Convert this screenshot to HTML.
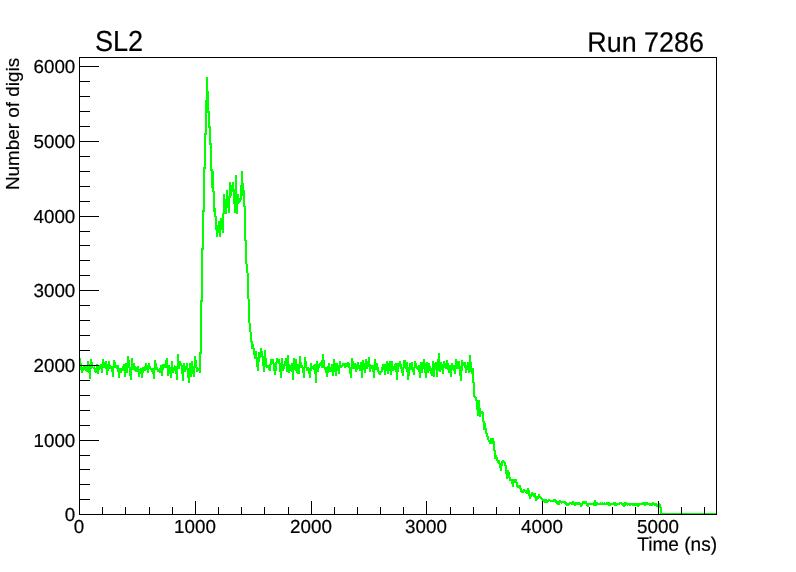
<!DOCTYPE html>
<html lang="en">
<head>
<meta charset="utf-8">
<title>SL2 - Run 7286</title>
<style>
html,body{margin:0;padding:0;background:#fff;}
body{width:796px;height:572px;overflow:hidden;}
svg{display:block;}
text{font-family:"Liberation Sans",Arial,Helvetica,sans-serif;fill:#000;stroke:#000;stroke-width:0.2px;}
</style>
</head>
<body>
<svg width="796" height="572" viewBox="0 0 796 572">
<rect width="796" height="572" fill="#fff"/>
<g shape-rendering="crispEdges"><rect x="79" y="57" width="638" height="1" fill="#000"/><rect x="716" y="57" width="1" height="458" fill="#000"/></g>
<path shape-rendering="crispEdges" fill="#00ff00" d="M80 358v12h1v-12zM81 363v10h1v-10zM82 367v6h1v-6zM83 366v5h1v-5zM84 366v4h1v-4zM85 366v5h1v-5zM86 366v6h1v-6zM87 361v11h1v-11zM88 361v12h1v-12zM89 364v15h1v-15zM90 359v20h1v-20zM91 359v10h1v-10zM92 362v6h1v-6zM93 367v2h1v-2zM94 366v6h1v-6zM95 368v5h1v-5zM96 364v9h1v-9zM97 364v10h1v-10zM98 365v9h1v-9zM99 365v5h1v-5zM100 364v5h1v-5zM101 364v9h1v-9zM102 359v14h1v-14zM103 359v9h1v-9zM104 362v6h1v-6zM105 361v8h1v-8zM106 361v14h1v-14zM107 364v11h1v-11zM108 361v10h1v-10zM109 361v8h1v-8zM110 365v4h1v-4zM111 366v6h1v-6zM112 366v11h1v-11zM113 360v17h1v-17zM114 360v8h1v-8zM115 362v6h1v-6zM116 365v4h1v-4zM117 365v7h1v-7zM118 365v13h1v-13zM119 368v10h1v-10zM120 368v5h1v-5zM121 368v5h1v-5zM122 366v5h1v-5zM123 364v7h1v-7zM124 364v13h1v-13zM125 363v14h1v-14zM126 363v10h1v-10zM127 356v17h1v-17zM128 356v12h1v-12zM129 360v16h1v-16zM130 367v13h1v-13zM131 358v22h1v-22zM132 358v12h1v-12zM133 363v7h1v-7zM134 363v8h1v-8zM135 366v6h1v-6zM136 367v5h1v-5zM137 366v6h1v-6zM138 366v11h1v-11zM139 369v8h1v-8zM140 368v6h1v-6zM141 368v10h1v-10zM142 367v11h1v-11zM143 367v6h1v-6zM144 366v5h1v-5zM145 363v8h1v-8zM146 363v7h1v-7zM147 365v8h1v-8zM148 363v10h1v-10zM149 363v6h1v-6zM150 366v4h1v-4zM151 368v4h1v-4zM152 368v6h1v-6zM153 368v11h1v-11zM154 360v19h1v-19zM155 360v10h1v-10zM156 363v7h1v-7zM157 367v5h1v-5zM158 369v3h1v-3zM159 368v5h1v-5zM160 365v8h1v-8zM161 365v11h1v-11zM162 364v12h1v-12zM163 364v6h1v-6zM164 364v4h1v-4zM165 360v8h1v-8zM166 358v10h1v-10zM167 358v18h1v-18zM168 365v11h1v-11zM169 365v9h1v-9zM170 367v11h1v-11zM171 361v17h1v-17zM172 361v12h1v-12zM173 367v6h1v-6zM174 365v6h1v-6zM175 366v8h1v-8zM176 366v14h1v-14zM177 354v26h1v-26zM178 354v15h1v-15zM179 361v8h1v-8zM180 361v5h1v-5zM181 363v11h1v-11zM182 365v16h1v-16zM183 363v18h1v-18zM184 363v9h1v-9zM185 366v6h1v-6zM186 363v7h1v-7zM187 363v15h1v-15zM188 368v15h1v-15zM189 363v20h1v-20zM190 363v14h1v-14zM191 361v16h1v-16zM192 361v13h1v-13zM193 366v11h1v-11zM194 356v21h1v-21zM195 356v12h1v-12zM196 360v12h1v-12zM197 367v5h1v-5zM198 368v3h1v-3zM199 352v21h1v-21zM200 300v73h1v-73zM201 248v106h1v-106zM202 210v92h1v-92zM203 167v83h1v-83zM204 133v79h1v-79zM205 100v69h1v-69zM206 77v58h1v-58zM207 77v36h1v-36zM208 91v37h1v-37zM209 111v34h1v-34zM210 126v45h1v-45zM211 143v45h1v-45zM212 169v23h1v-23zM213 171v41h1v-41zM214 191v26h1v-26zM215 208v22h1v-22zM216 216v21h1v-21zM217 225v12h1v-12zM218 221v12h1v-12zM219 221v16h1v-16zM220 218v19h1v-19zM221 218v12h1v-12zM222 213v20h1v-20zM223 194v39h1v-39zM224 194v20h1v-20zM225 199v15h1v-15zM226 190v24h1v-24zM227 190v18h1v-18zM228 196v17h1v-17zM229 182v31h1v-31zM230 182v16h1v-16zM231 185v11h1v-11zM232 182v10h1v-10zM233 182v22h1v-22zM234 189v24h1v-24zM235 175v38h1v-38zM236 175v39h1v-39zM237 194v20h1v-20zM238 194v10h1v-10zM239 198v5h1v-5zM240 185v17h1v-17zM241 171v29h1v-29zM242 171v25h1v-25zM243 183v24h1v-24zM244 190v51h1v-51zM245 206v58h1v-58zM246 240v33h1v-33zM247 264v35h1v-35zM248 273v50h1v-50zM249 299v33h1v-33zM250 323v19h1v-19zM251 332v17h1v-17zM252 341v8h1v-8zM253 344v11h1v-11zM254 348v11h1v-11zM255 351v8h1v-8zM256 351v16h1v-16zM257 357v14h1v-14zM258 352v19h1v-19zM259 352v10h1v-10zM260 348v10h1v-10zM261 348v9h1v-9zM262 351v15h1v-15zM263 356v16h1v-16zM264 350v22h1v-22zM265 350v17h1v-17zM266 358v10h1v-10zM267 365v3h1v-3zM268 365v5h1v-5zM269 364v7h1v-7zM270 359v12h1v-12zM271 359v6h1v-6zM272 359v5h1v-5zM273 359v12h1v-12zM274 363v12h1v-12zM275 362v13h1v-13zM276 358v13h1v-13zM277 358v5h1v-5zM278 359v5h1v-5zM279 359v13h1v-13zM280 363v15h1v-15zM281 358v20h1v-20zM282 358v13h1v-13zM283 364v7h1v-7zM284 361v8h1v-8zM285 358v8h1v-8zM286 358v14h1v-14zM287 355v17h1v-17zM288 355v18h1v-18zM289 364v9h1v-9zM290 365v6h1v-6zM291 363v9h1v-9zM292 363v17h1v-17zM293 358v22h1v-22zM294 358v12h1v-12zM295 359v12h1v-12zM296 359v14h1v-14zM297 364v10h1v-10zM298 364v10h1v-10zM299 356v18h1v-18zM300 356v12h1v-12zM301 362v6h1v-6zM302 365v8h1v-8zM303 367v11h1v-11zM304 357v21h1v-21zM305 357v11h1v-11zM306 361v10h1v-10zM307 367v4h1v-4zM308 367v7h1v-7zM309 368v10h1v-10zM310 363v15h1v-15zM311 363v8h1v-8zM312 366v3h1v-3zM313 365v5h1v-5zM314 364v10h1v-10zM315 364v19h1v-19zM316 361v22h1v-22zM317 361v11h1v-11zM318 364v8h1v-8zM319 363v5h1v-5zM320 362v4h1v-4zM321 360v8h1v-8zM322 354v14h1v-14zM323 354v14h1v-14zM324 360v10h1v-10zM325 367v6h1v-6zM326 367v10h1v-10zM327 366v11h1v-11zM328 363v10h1v-10zM329 363v9h1v-9zM330 367v5h1v-5zM331 364v8h1v-8zM332 364v12h1v-12zM333 359v17h1v-17zM334 359v13h1v-13zM335 363v13h1v-13zM336 363v13h1v-13zM337 363v8h1v-8zM338 365v9h1v-9zM339 361v13h1v-13zM340 361v7h1v-7zM341 365v3h1v-3zM342 363v4h1v-4zM343 363v3h1v-3zM344 363v5h1v-5zM345 363v5h1v-5zM346 363v4h1v-4zM347 362v5h1v-5zM348 362v6h1v-6zM349 363v11h1v-11zM350 367v11h1v-11zM351 358v20h1v-20zM352 358v11h1v-11zM353 361v8h1v-8zM354 363v6h1v-6zM355 363v9h1v-9zM356 364v8h1v-8zM357 362v8h1v-8zM358 362v7h1v-7zM359 365v6h1v-6zM360 362v9h1v-9zM361 362v16h1v-16zM362 360v18h1v-18zM363 360v10h1v-10zM364 363v10h1v-10zM365 359v14h1v-14zM366 359v10h1v-10zM367 361v8h1v-8zM368 357v10h1v-10zM369 357v15h1v-15zM370 364v8h1v-8zM371 365v4h1v-4zM372 365v7h1v-7zM373 365v13h1v-13zM374 359v19h1v-19zM375 359v11h1v-11zM376 363v7h1v-7zM377 363v9h1v-9zM378 367v7h1v-7zM379 371v4h1v-4zM380 371v4h1v-4zM381 367v6h1v-6zM382 364v8h1v-8zM383 364v6h1v-6zM384 364v11h1v-11zM385 364v11h1v-11zM386 361v10h1v-10zM387 361v13h1v-13zM388 363v11h1v-11zM389 361v10h1v-10zM390 361v14h1v-14zM391 361v14h1v-14zM392 361v10h1v-10zM393 366v5h1v-5zM394 364v6h1v-6zM395 363v9h1v-9zM396 363v17h1v-17zM397 363v17h1v-17zM398 363v9h1v-9zM399 361v6h1v-6zM400 361v8h1v-8zM401 364v9h1v-9zM402 367v9h1v-9zM403 360v16h1v-16zM404 360v8h1v-8zM405 360v9h1v-9zM406 362v10h1v-10zM407 362v18h1v-18zM408 367v13h1v-13zM409 363v13h1v-13zM410 363v7h1v-7zM411 362v8h1v-8zM412 362v10h1v-10zM413 367v8h1v-8zM414 361v14h1v-14zM415 361v7h1v-7zM416 363v6h1v-6zM417 366v4h1v-4zM418 365v7h1v-7zM419 365v13h1v-13zM420 362v16h1v-16zM421 362v11h1v-11zM422 362v11h1v-11zM423 359v10h1v-10zM424 359v14h1v-14zM425 363v15h1v-15zM426 362v16h1v-16zM427 362v11h1v-11zM428 363v10h1v-10zM429 363v8h1v-8zM430 366v8h1v-8zM431 368v8h1v-8zM432 361v15h1v-15zM433 361v16h1v-16zM434 363v14h1v-14zM435 362v8h1v-8zM436 362v15h1v-15zM437 359v18h1v-18zM438 353v18h1v-18zM439 353v19h1v-19zM440 362v10h1v-10zM441 362v8h1v-8zM442 364v10h1v-10zM443 361v13h1v-13zM444 361v7h1v-7zM445 363v6h1v-6zM446 360v9h1v-9zM447 360v10h1v-10zM448 363v10h1v-10zM449 365v8h1v-8zM450 365v12h1v-12zM451 363v14h1v-14zM452 363v7h1v-7zM453 365v6h1v-6zM454 365v9h1v-9zM455 359v15h1v-15zM456 359v10h1v-10zM457 361v8h1v-8zM458 361v8h1v-8zM459 361v15h1v-15zM460 366v15h1v-15zM461 360v21h1v-21zM462 360v11h1v-11zM463 362v4h1v-4zM464 362v6h1v-6zM465 362v11h1v-11zM466 365v8h1v-8zM467 362v8h1v-8zM468 362v11h1v-11zM469 355v18h1v-18zM470 355v17h1v-17zM471 362v12h1v-12zM472 368v15h1v-15zM473 368v29h1v-29zM474 382v16h1v-16zM475 396v5h1v-5zM476 397v13h1v-13zM477 400v16h1v-16zM478 400v16h1v-16zM479 400v17h1v-17zM480 408v9h1v-9zM481 411v3h1v-3zM482 411v11h1v-11zM483 412v18h1v-18zM484 421v9h1v-9zM485 423v11h1v-11zM486 428v9h1v-9zM487 433v7h1v-7zM488 436v6h1v-6zM489 440v4h1v-4zM490 438v6h1v-6zM491 438v6h1v-6zM492 438v6h1v-6zM493 438v13h1v-13zM494 441v18h1v-18zM495 450v9h1v-9zM496 455v6h1v-6zM497 457v6h1v-6zM498 460v4h1v-4zM499 460v8h1v-8zM500 463v8h1v-8zM501 461v10h1v-10zM502 460v6h1v-6zM503 460v3h1v-3zM504 461v5h1v-5zM505 462v12h1v-12zM506 465v14h1v-14zM507 470v9h1v-9zM508 470v8h1v-8zM509 472v9h1v-9zM510 477v4h1v-4zM511 479v5h1v-5zM512 479v8h1v-8zM513 479v8h1v-8zM514 479v4h1v-4zM515 479v4h1v-4zM516 479v8h1v-8zM517 482v6h1v-6zM518 485v3h1v-3zM519 485v4h1v-4zM520 485v7h1v-7zM521 488v5h1v-5zM522 490v3h1v-3zM523 489v4h1v-4zM524 489v3h1v-3zM525 490v3h1v-3zM526 490v4h1v-4zM527 488v6h1v-6zM528 488v8h1v-8zM529 490v9h1v-9zM530 494v5h1v-5zM531 492v5h1v-5zM532 492v4h1v-4zM533 493v4h1v-4zM534 493v5h1v-5zM535 493v8h1v-8zM536 496v5h1v-5zM537 496v4h1v-4zM538 494v5h1v-5zM539 494v4h1v-4zM540 496v3h1v-3zM541 497v3h1v-3zM542 498v3h1v-3zM543 499v3h1v-3zM544 499v4h1v-4zM545 499v4h1v-4zM546 499v4h1v-4zM547 500v3h1v-3zM548 499v3h1v-3zM549 499v2h1v-2zM550 500v2h1v-2zM551 500v2h1v-2zM552 500v2h1v-2zM553 499v3h1v-3zM554 499v3h1v-3zM555 499v4h1v-4zM556 500v4h1v-4zM557 501v4h1v-4zM558 501v4h1v-4zM559 500v5h1v-5zM560 500v3h1v-3zM561 501v3h1v-3zM562 501v2h1v-2zM563 501v2h1v-2zM564 501v3h1v-3zM565 501v4h1v-4zM566 502v4h1v-4zM567 503v3h1v-3zM568 503v3h1v-3zM569 502v3h1v-3zM570 502v2h1v-2zM571 502v3h1v-3zM572 501v4h1v-4zM573 501v4h1v-4zM574 502v4h1v-4zM575 502v4h1v-4zM576 502v3h1v-3zM577 502v3h1v-3zM578 502v3h1v-3zM579 502v3h1v-3zM580 503v4h1v-4zM581 503v4h1v-4zM582 501v5h1v-5zM583 501v3h1v-3zM584 501v3h1v-3zM585 501v3h1v-3zM586 501v5h1v-5zM587 503v4h1v-4zM588 503v4h1v-4zM589 503v2h1v-2zM590 503v2h1v-2zM591 503v2h1v-2zM592 503v2h1v-2zM593 502v4h1v-4zM594 500v6h1v-6zM595 500v6h1v-6zM596 502v4h1v-4zM597 502v3h1v-3zM598 503v2h1v-2zM599 503v2h1v-2zM600 502v3h1v-3zM601 503v2h1v-2zM602 502v3h1v-3zM603 503v2h1v-2zM604 502v3h1v-3zM605 503v2h1v-2zM606 502v3h1v-3zM607 502v3h1v-3zM608 502v4h1v-4zM609 502v4h1v-4zM610 503v3h1v-3zM611 503v2h1v-2zM612 503v2h1v-2zM613 502v3h1v-3zM614 502v4h1v-4zM615 502v4h1v-4zM616 503v3h1v-3zM617 503v2h1v-2zM618 503v2h1v-2zM619 502v3h1v-3zM620 502v2h1v-2zM621 502v3h1v-3zM622 503v3h1v-3zM623 503v4h1v-4zM624 502v5h1v-5zM625 502v4h1v-4zM626 502v3h1v-3zM627 503v3h1v-3zM628 503v2h1v-2zM629 503v3h1v-3zM630 503v3h1v-3zM631 503v2h1v-2zM632 503v3h1v-3zM633 503v3h1v-3zM634 503v3h1v-3zM635 503v3h1v-3zM636 503v3h1v-3zM637 503v4h1v-4zM638 503v4h1v-4zM639 503v3h1v-3zM640 503v2h1v-2zM641 503v2h1v-2zM642 502v3h1v-3zM643 502v3h1v-3zM644 502v4h1v-4zM645 502v4h1v-4zM646 502v3h1v-3zM647 502v3h1v-3zM648 503v2h1v-2zM649 503v3h1v-3zM650 503v3h1v-3zM651 503v3h1v-3zM652 502v4h1v-4zM653 502v3h1v-3zM654 503v3h1v-3zM655 503v3h1v-3zM656 503v4h1v-4zM657 504v3h1v-3zM658 504v3h1v-3zM659 503v5h1v-5zM660 504v10h1v-10zM661 507v7h1v-7zM662 513v1h1v-1zM663 513v1h1v-1zM664 513v1h1v-1zM665 513v1h1v-1zM666 513v1h1v-1zM667 513v1h1v-1zM668 513v1h1v-1zM669 513v1h1v-1zM670 513v1h1v-1zM671 513v1h1v-1zM672 513v1h1v-1zM673 513v1h1v-1zM674 513v1h1v-1zM675 513v1h1v-1zM676 513v1h1v-1zM677 513v1h1v-1zM678 513v1h1v-1zM679 513v1h1v-1zM680 513v1h1v-1zM681 513v1h1v-1zM682 513v1h1v-1zM683 513v1h1v-1zM684 513v1h1v-1zM685 513v1h1v-1zM686 513v1h1v-1zM687 513v1h1v-1zM688 513v1h1v-1zM689 513v1h1v-1zM690 513v1h1v-1zM691 513v1h1v-1zM692 513v1h1v-1zM693 513v1h1v-1zM694 513v1h1v-1zM695 513v1h1v-1zM696 513v1h1v-1zM697 513v1h1v-1zM698 513v1h1v-1zM699 513v1h1v-1zM700 513v1h1v-1zM701 513v1h1v-1zM702 513v1h1v-1zM703 513v1h1v-1zM704 513v1h1v-1zM705 513v1h1v-1zM706 513v1h1v-1zM707 513v1h1v-1zM708 513v1h1v-1zM709 513v1h1v-1zM710 513v1h1v-1zM711 513v1h1v-1zM712 513v1h1v-1zM713 513v1h1v-1zM714 513v1h1v-1zM715 513v1h1v-1z"/>
<g shape-rendering="crispEdges"><rect x="79" y="57" width="1" height="458" fill="#000"/><rect x="79" y="514" width="638" height="1" fill="#000"/><rect x="79" y="501" width="1" height="13" fill="#000"/><rect x="102" y="507" width="1" height="7" fill="#000"/><rect x="125" y="507" width="1" height="7" fill="#000"/><rect x="149" y="507" width="1" height="7" fill="#000"/><rect x="172" y="507" width="1" height="7" fill="#000"/><rect x="195" y="501" width="1" height="13" fill="#000"/><rect x="218" y="507" width="1" height="7" fill="#000"/><rect x="241" y="507" width="1" height="7" fill="#000"/><rect x="264" y="507" width="1" height="7" fill="#000"/><rect x="288" y="507" width="1" height="7" fill="#000"/><rect x="311" y="501" width="1" height="13" fill="#000"/><rect x="334" y="507" width="1" height="7" fill="#000"/><rect x="357" y="507" width="1" height="7" fill="#000"/><rect x="380" y="507" width="1" height="7" fill="#000"/><rect x="403" y="507" width="1" height="7" fill="#000"/><rect x="426" y="501" width="1" height="13" fill="#000"/><rect x="450" y="507" width="1" height="7" fill="#000"/><rect x="473" y="507" width="1" height="7" fill="#000"/><rect x="496" y="507" width="1" height="7" fill="#000"/><rect x="519" y="507" width="1" height="7" fill="#000"/><rect x="542" y="501" width="1" height="13" fill="#000"/><rect x="565" y="507" width="1" height="7" fill="#000"/><rect x="589" y="507" width="1" height="7" fill="#000"/><rect x="612" y="507" width="1" height="7" fill="#000"/><rect x="635" y="507" width="1" height="7" fill="#000"/><rect x="658" y="501" width="1" height="13" fill="#000"/><rect x="681" y="507" width="1" height="7" fill="#000"/><rect x="704" y="507" width="1" height="7" fill="#000"/><rect x="79" y="514" width="20" height="1" fill="#000"/><rect x="79" y="499" width="11" height="1" fill="#000"/><rect x="79" y="484" width="11" height="1" fill="#000"/><rect x="79" y="469" width="11" height="1" fill="#000"/><rect x="79" y="455" width="11" height="1" fill="#000"/><rect x="79" y="440" width="20" height="1" fill="#000"/><rect x="79" y="425" width="11" height="1" fill="#000"/><rect x="79" y="410" width="11" height="1" fill="#000"/><rect x="79" y="395" width="11" height="1" fill="#000"/><rect x="79" y="380" width="11" height="1" fill="#000"/><rect x="79" y="365" width="20" height="1" fill="#000"/><rect x="79" y="350" width="11" height="1" fill="#000"/><rect x="79" y="335" width="11" height="1" fill="#000"/><rect x="79" y="320" width="11" height="1" fill="#000"/><rect x="79" y="305" width="11" height="1" fill="#000"/><rect x="79" y="290" width="20" height="1" fill="#000"/><rect x="79" y="275" width="11" height="1" fill="#000"/><rect x="79" y="260" width="11" height="1" fill="#000"/><rect x="79" y="245" width="11" height="1" fill="#000"/><rect x="79" y="231" width="11" height="1" fill="#000"/><rect x="79" y="216" width="20" height="1" fill="#000"/><rect x="79" y="201" width="11" height="1" fill="#000"/><rect x="79" y="186" width="11" height="1" fill="#000"/><rect x="79" y="171" width="11" height="1" fill="#000"/><rect x="79" y="156" width="11" height="1" fill="#000"/><rect x="79" y="141" width="20" height="1" fill="#000"/><rect x="79" y="126" width="11" height="1" fill="#000"/><rect x="79" y="111" width="11" height="1" fill="#000"/><rect x="79" y="96" width="11" height="1" fill="#000"/><rect x="79" y="81" width="11" height="1" fill="#000"/><rect x="79" y="66" width="20" height="1" fill="#000"/></g>
<text transform="translate(75.30,521.00) rotate(0.03) scale(1,1.005)" text-anchor="end" font-size="18.8">0</text>
<text transform="translate(75.30,447.00) rotate(0.03) scale(1,1.005)" text-anchor="end" font-size="18.8">1000</text>
<text transform="translate(75.30,372.00) rotate(0.03) scale(1,1.005)" text-anchor="end" font-size="18.8">2000</text>
<text transform="translate(75.30,297.00) rotate(0.03) scale(1,1.005)" text-anchor="end" font-size="18.8">3000</text>
<text transform="translate(75.30,223.00) rotate(0.03) scale(1,1.005)" text-anchor="end" font-size="18.8">4000</text>
<text transform="translate(75.30,148.00) rotate(0.03) scale(1,1.005)" text-anchor="end" font-size="18.8">5000</text>
<text transform="translate(75.30,73.00) rotate(0.03) scale(1,1.005)" text-anchor="end" font-size="18.8">6000</text>
<text transform="translate(79.00,533.00) rotate(0.03) scale(1,1.005)" text-anchor="middle" font-size="18.8">0</text>
<text transform="translate(195.00,533.00) rotate(0.03) scale(1,1.005)" text-anchor="middle" font-size="18.8">1000</text>
<text transform="translate(311.00,533.00) rotate(0.03) scale(1,1.005)" text-anchor="middle" font-size="18.8">2000</text>
<text transform="translate(426.00,533.00) rotate(0.03) scale(1,1.005)" text-anchor="middle" font-size="18.8">3000</text>
<text transform="translate(542.00,533.00) rotate(0.03) scale(1,1.005)" text-anchor="middle" font-size="18.8">4000</text>
<text transform="translate(658.00,533.00) rotate(0.03) scale(1,1.005)" text-anchor="middle" font-size="18.8">5000</text>
<text transform="translate(717.00,550.70) rotate(0.03) scale(1,1.02)" text-anchor="end" font-size="19.05">Time (ns)</text>
<text transform="translate(19.20,57.80) rotate(-90) scale(1,0.985)" text-anchor="end" font-size="18.9">Number of digis</text>
<text transform="translate(94.95,50.95) rotate(0.03) scale(1,1.07)" text-anchor="start" font-size="27.1">SL2</text>
<text transform="translate(703.95,51.70) rotate(0.03) scale(1,1.04)" text-anchor="end" font-size="26.9">Run 7286</text>
</svg>
</body>
</html>
